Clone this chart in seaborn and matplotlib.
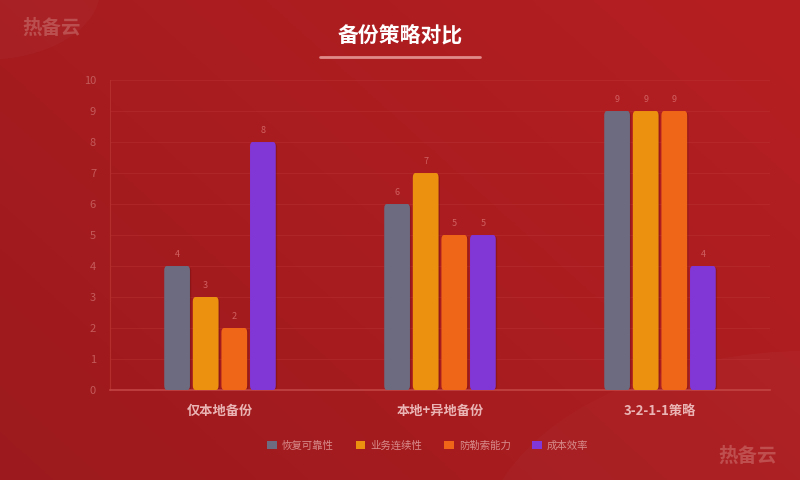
import matplotlib
matplotlib.use("Agg")
import matplotlib.pyplot as plt
import numpy as np
import pandas as pd
import seaborn as sns
from matplotlib.patches import FancyBboxPatch, Circle

strategies = ["仅本地备份", "本地+异地备份", "3-2-1-1策略"]
metrics = ["恢复可靠性", "业务连续性", "防勒索能力", "成本效率"]
reliability = [4, 6, 9]
continuity = [3, 7, 9]
ransomware = [2, 5, 9]
cost = [8, 5, 4]
colors = ["#6c6b80", "#ec9010", "#f06618", "#8136d6"]

df = pd.DataFrame({
    "strategy": strategies * 4,
    "metric": [m for m in metrics for _ in strategies],
    "score": reliability + continuity + ransomware + cost,
})

sns.set_theme(style="white")
plt.rcParams["font.family"] = ["Noto Sans CJK SC", "DejaVu Sans"]

fig = plt.figure(figsize=(8, 4.8), dpi=100)

# gradient background
bg = fig.add_axes([0, 0, 1, 1], zorder=-10)
yy, xx = np.mgrid[0:1:200j, 0:1:300j]
grad = (xx * 0.6 + (1 - yy) * 0.4)
c0 = np.array([0x9c, 0x1a, 0x1d]) / 255
c1 = np.array([0xb6, 0x1f, 0x22]) / 255
img = c0[None, None, :] * (1 - grad[..., None]) + c1[None, None, :] * grad[..., None]
bg.imshow(img, extent=[0, 1, 0, 1], aspect="auto", origin="upper")
bg.add_patch(Circle((-0.02, 1.02), 0.145, transform=bg.transAxes, color="white", alpha=0.025, lw=0))
bg.add_patch(Circle((1.02, -0.15), 0.42, transform=bg.transAxes, color="white", alpha=0.02, lw=0))
bg.set_xlim(0, 1)
bg.set_ylim(0, 1)
bg.axis("off")

ax = fig.add_axes([0.1375, 0.1875, 0.825, 0.6458])
ax.set_facecolor("none")
sns.barplot(data=df, x="strategy", y="score", hue="metric", palette=colors,
            width=0.52, gap=0.1, ax=ax, legend=False, saturation=1)

# swap plain rectangles for rounded bars with a soft shadow
for bar in list(ax.patches):
    x, y = bar.get_x(), bar.get_y()
    w, h = bar.get_width(), bar.get_height()
    col = bar.get_facecolor()
    bar.set_visible(False)
    shadow = FancyBboxPatch((x + 0.006, y), w, h - 0.04,
                            boxstyle="round,pad=0,rounding_size=0.015",
                            mutation_aspect=8, fc="#5a0a0c", ec="none", alpha=0.3, zorder=2)
    ax.add_patch(shadow)
    rb = FancyBboxPatch((x, y), w, h, boxstyle="round,pad=0,rounding_size=0.012",
                        mutation_aspect=12, fc=col, ec="none", zorder=3)
    ax.add_patch(rb)
    ax.text(x + w / 2, h + 0.22, f"{h:g}", ha="center", va="bottom",
            fontsize=6.5, color="#d06060", zorder=4)

ax.set_ylim(0, 10)
ax.set_xlim(-0.5, 2.5)
ax.set_yticks(range(0, 11))
ax.grid(axis="y", color="#c03a3a", lw=0.8, alpha=0.35)
ax.set_axisbelow(True)
for s in ["top", "right"]:
    ax.spines[s].set_visible(False)
ax.spines["left"].set_color("#b52e2e")
ax.spines["bottom"].set_color("#c24444")
ax.spines["left"].set_linewidth(0.8)
ax.spines["bottom"].set_linewidth(1.2)
ax.tick_params(axis="y", length=0, labelsize=8, pad=10)
ax.tick_params(axis="x", length=0, pad=10)
for lbl in ax.get_yticklabels():
    lbl.set_color("#c45a5a")
for lbl in ax.get_xticklabels():
    lbl.set_color("#eab4b4")
    lbl.set_fontsize(9.5)
    lbl.set_fontweight("bold")
ax.set_xlabel("")
ax.set_ylabel("")

# legend
handles = [plt.Rectangle((0, 0), 1, 1, fc=c, ec="none") for c in colors]
leg = fig.legend(handles, metrics, loc="center", bbox_to_anchor=(0.535, 0.072), ncol=4,
                 frameon=False, fontsize=7.5, handlelength=0.9, handleheight=0.9,
                 columnspacing=2.1, handletextpad=0.5)
for t in leg.get_texts():
    t.set_color("#d88c8c")

# title and decorations
fig.text(0.5, 0.927, "备份策略对比", ha="center", va="center", fontsize=15,
         fontweight="bold", color="white")
fig.add_artist(plt.Line2D([0.4, 0.6], [0.881, 0.881], color="#e08a8a", lw=2,
                          transform=fig.transFigure))
fig.text(0.065, 0.942, "热备云", ha="center", va="center", fontsize=14,
         fontweight="bold", color="#c46262", alpha=0.7)
fig.text(0.935, 0.05, "热备云", ha="center", va="center", fontsize=14,
         fontweight="bold", color="#c86262", alpha=0.7)

fig.savefig("out.png", dpi=100)
